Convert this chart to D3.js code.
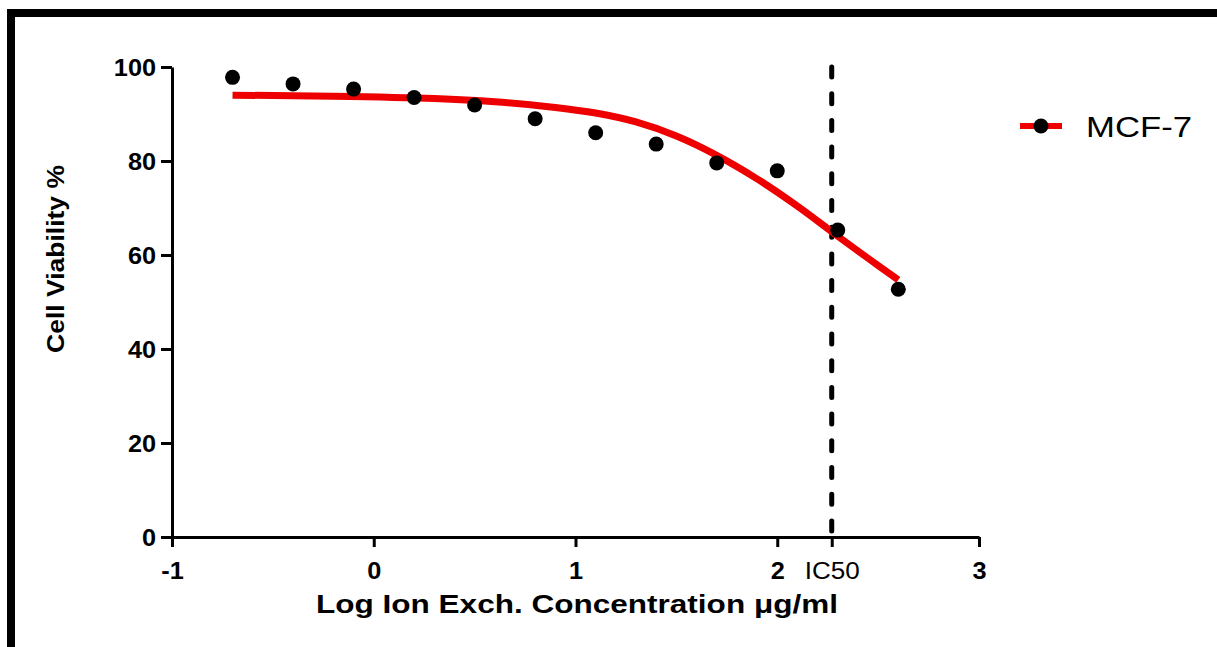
<!DOCTYPE html>
<meta charset="utf-8">
<html>
<script src="https://d3js.org/d3.v7.min.js"></script>
<style>
  body { margin: 0; background: #fff; }
  text { font-family: "Liberation Sans", Arial, sans-serif; }
</style>
<div id="chart"></div>
<script>

// measured points (log conc, % viability)
var logConc = [-0.7, -0.4, -0.1, 0.2, 0.5, 0.8, 1.1, 1.4, 1.7, 2.0, 2.3, 2.6];
var viability = [97.8, 96.4, 95.3, 93.5, 91.9, 89.0, 86.0, 83.6, 79.6, 77.9, 65.3, 52.7];

// fitted curve
var fitX = [-0.7, -0.2, 0.3, 0.6, 0.9, 1.1, 1.3, 1.5, 1.7, 1.9, 2.1, 2.3, 2.45, 2.6];
var fitY = [94.0, 93.8, 93.3, 92.6, 91.4, 90.2, 88.3, 85.3, 81.2, 76.2, 70.4, 64.0, 59.3, 54.7];

var ic50 = 2.27;
var xTicks = [-1, 0, 1, 2, 3];
var yTicks = [0, 20, 40, 60, 80, 100];
var seriesName = "MCF-7";

var width = 1217,
    height = 647,
    stretch = 1.1; // tick labels in the original are a bit wider than Arial

var svg = d3.select("#chart")
  .append("svg")
    .attr("width", width)
    .attr("height", height);

// black frame (top + left only visible)
svg.append("rect")
  .attr("x", 11).attr("y", 13)
  .attr("width", width + 20).attr("height", height + 20)
  .attr("fill", "none")
  .attr("stroke", "black")
  .attr("stroke-width", 8);

var x = d3.scaleLinear().domain([-1, 3]).range([172, 979]);
var y = d3.scaleLinear().domain([0, 100]).range([537, 67]);

// y axis
var yAxis = svg.append("g")
  .attr("transform", "translate(172,0)")
  .call(d3.axisLeft(y).tickValues(yTicks).tickSizeInner(11).tickSizeOuter(0).tickPadding(5));

// x axis
var xAxis = svg.append("g")
  .attr("transform", "translate(0,537)")
  .call(d3.axisBottom(x).tickValues(xTicks.concat([ic50])).tickSizeInner(10).tickSizeOuter(0)
    .tickFormat(function(d) { return d === ic50 ? "IC50" : String(d); }));

svg.selectAll(".domain, .tick line")
  .attr("stroke", "black")
  .attr("stroke-width", 3);

yAxis.selectAll("text")
  .attr("font-size", 23)
  .attr("font-weight", "bold")
  .attr("fill", "black")
  .attr("x", -16 / stretch)
  .attr("dy", "0.36em")
  .attr("transform", "scale(" + stretch + ",1)");

xAxis.selectAll("text")
  .attr("font-size", 23)
  .attr("font-weight", "bold")
  .attr("fill", "black")
  .attr("y", 42)
  .attr("dy", 0)
  .attr("transform", "scale(" + stretch + ",1)");

xAxis.selectAll(".tick")
  .filter(function(d) { return d === ic50; })
  .select("text")
  .attr("font-weight", "normal")
  .attr("font-size", 24)
  .attr("transform", null)
  .attr("textLength", 55)
  .attr("lengthAdjust", "spacingAndGlyphs");

// IC50 dashed line
svg.append("line")
  .attr("x1", x(ic50)).attr("x2", x(ic50))
  .attr("y1", y(100)).attr("y2", y(0))
  .attr("stroke", "black")
  .attr("stroke-width", 5)
  .attr("stroke-linecap", "round")
  .attr("stroke-dasharray", "10,16.7");

// fit curve
var fitData = fitX.map(function(d, i) { return [d, fitY[i]]; });
svg.append("path")
  .datum(fitData)
  .attr("fill", "none")
  .attr("stroke", "#ee0000")
  .attr("stroke-width", 7)
  .attr("d", d3.line()
    .x(function(d) { return x(d[0]); })
    .y(function(d) { return y(d[1]); })
    .curve(d3.curveCatmullRom));

// points
svg.selectAll("circle.pt")
  .data(logConc)
  .enter().append("circle")
  .attr("class", "pt")
  .attr("cx", function(d) { return x(d); })
  .attr("cy", function(d, i) { return y(viability[i]); })
  .attr("r", 7.5)
  .attr("fill", "black");

// axis titles
svg.append("text")
  .attr("x", 577).attr("y", 613)
  .attr("text-anchor", "middle")
  .attr("font-size", 25)
  .attr("font-weight", "bold")
  .attr("textLength", 522)
  .attr("lengthAdjust", "spacingAndGlyphs")
  .text("Log Ion Exch. Concentration \u03bcg/ml");

svg.append("text")
  .attr("transform", "translate(64,259) rotate(-90)")
  .attr("text-anchor", "middle")
  .attr("font-size", 24)
  .attr("font-weight", "bold")
  .attr("textLength", 188)
  .attr("lengthAdjust", "spacingAndGlyphs")
  .text("Cell Viability %");

// legend
var legend = svg.append("g").attr("transform", "translate(1020,126)");
legend.append("line")
  .attr("x1", 0).attr("x2", 42)
  .attr("stroke", "#ee0000")
  .attr("stroke-width", 6);
legend.append("circle")
  .attr("cx", 21).attr("r", 7.5)
  .attr("fill", "black");
legend.append("text")
  .attr("x", 66).attr("y", 11)
  .attr("font-size", 30)
  .attr("textLength", 106)
  .attr("lengthAdjust", "spacingAndGlyphs")
  .text(seriesName);

</script>
</html>
